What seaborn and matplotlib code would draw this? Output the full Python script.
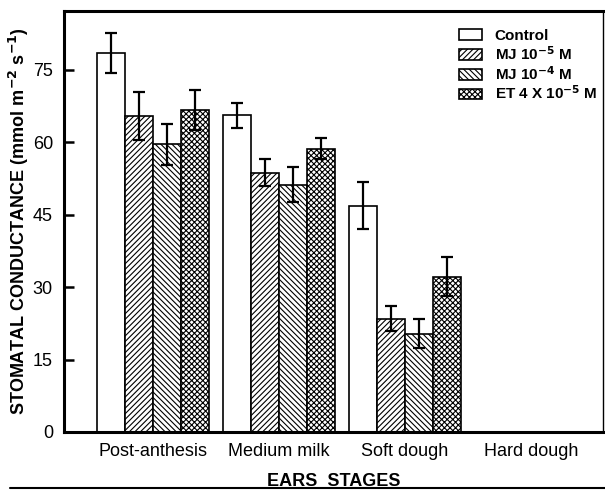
import numpy as np
import pandas as pd
import matplotlib
matplotlib.use("Agg")
import matplotlib.pyplot as plt
from matplotlib.lines import Line2D
from matplotlib.patches import Patch
import seaborn as sns

stages = ["Post-anthesis", "Medium milk", "Soft dough", "Hard dough"]
treatments = ["Control", "MJ 10$^{\\mathbf{-5}}$ M", "MJ 10$^{\\mathbf{-4}}$ M",
              "ET 4 X 10$^{\\mathbf{-5}}$ M"]
control = [78.5, 65.6, 46.9, np.nan]
mj5 = [65.5, 53.7, 23.5, np.nan]
mj4 = [59.6, 51.2, 20.4, np.nan]
et = [66.7, 58.7, 32.2, np.nan]
control_err = [4.1, 2.6, 4.8, np.nan]
mj5_err = [5.0, 2.8, 2.5, np.nan]
mj4_err = [4.2, 3.6, 3.0, np.nan]
et_err = [4.2, 2.1, 4.1, np.nan]
yticks = [0, 15, 30, 45, 60, 75]

sns.set_theme(style="white")
plt.rcParams['font.family'] = ['Liberation Sans', 'DejaVu Sans']
plt.rcParams['hatch.linewidth'] = 0.8
plt.rcParams['mathtext.default'] = 'regular'
for k in ['text.color', 'axes.labelcolor', 'xtick.color', 'ytick.color']:
    plt.rcParams[k] = 'black'

values = [control, mj5, mj4, et]
errs = [control_err, mj5_err, mj4_err, et_err]
rows = []
for t, vals, es in zip(treatments, values, errs):
    for s, v, e in zip(stages, vals, es):
        rows.append({"stage": s, "treatment": t, "value": v, "err": e})
df = pd.DataFrame(rows)

fig = plt.figure(figsize=(6.05, 4.91), dpi=100)
ax = fig.add_axes([64/605, 1-432/491, (603-64)/605, (432-11)/491])

hatches = ["", "//////", "\\\\\\\\\\\\", "xxxxxx"]
sns.barplot(data=df, x="stage", y="value", hue="treatment", order=stages,
            hue_order=treatments, width=0.889, palette=["white"]*4,
            edgecolor="black", linewidth=1.2, errorbar=None, ax=ax, legend=False)

containers = ax.containers
for ci, (cont, h, es) in enumerate(zip(containers, hatches, errs)):
    xs, ys, ee = [], [], []
    for bar, e in zip(cont, es):
        bar.set_hatch(h)
        bar.set_edgecolor("black")
        bar.set_facecolor("white")
        if np.isfinite(bar.get_height()) and np.isfinite(e):
            xs.append(bar.get_x() + bar.get_width()/2)
            ys.append(bar.get_height())
            ee.append(e)
    ax.errorbar(xs, ys, yerr=ee, fmt="none", ecolor="black", elinewidth=1.6,
                capsize=4, capthick=1.6, zorder=5)

ax.set_ylim(0, 87.2)
ax.set_xlim(-0.706, 3.571)
ax.set_yticks(yticks)
ax.set_yticklabels([str(v) for v in yticks], fontsize=13)
ax.tick_params(axis="y", direction="in", length=7, width=1.8, pad=8, left=True,
               colors="black")
ax.tick_params(axis="x", length=0, pad=8, labelsize=13, colors="black")
for sp in ["left", "bottom", "top"]:
    ax.spines[sp].set_linewidth(2.2)
    ax.spines[sp].set_color("black")
ax.spines["right"].set_linewidth(1.0)
ax.spines["right"].set_color("black")

ax.set_ylabel("STOMATAL CONDUCTANCE (mmol m$^{\\mathbf{-2}}$ s$^{\\mathbf{-1}}$)",
              fontsize=13, fontweight="bold", labelpad=1, color="black")
ax.set_xlabel("EARS  STAGES", fontsize=13, fontweight="bold", labelpad=9,
              color="black")

handles = [Patch(facecolor="white", edgecolor="black", hatch=h, linewidth=1.2) for h in hatches]
leg = ax.legend(handles, treatments, loc="upper left", bbox_to_anchor=(0.708, 0.99),
                frameon=False, prop={"weight": "bold", "size": 11},
                handlelength=1.5, handleheight=0.7, labelspacing=0.12,
                handletextpad=0.8, borderpad=0.4, labelcolor="black")

fig.add_artist(Line2D([10/605, 1.0], [1-488/491, 1-488/491], color="black", lw=1.5))

fig.savefig("out.png", dpi=100)
